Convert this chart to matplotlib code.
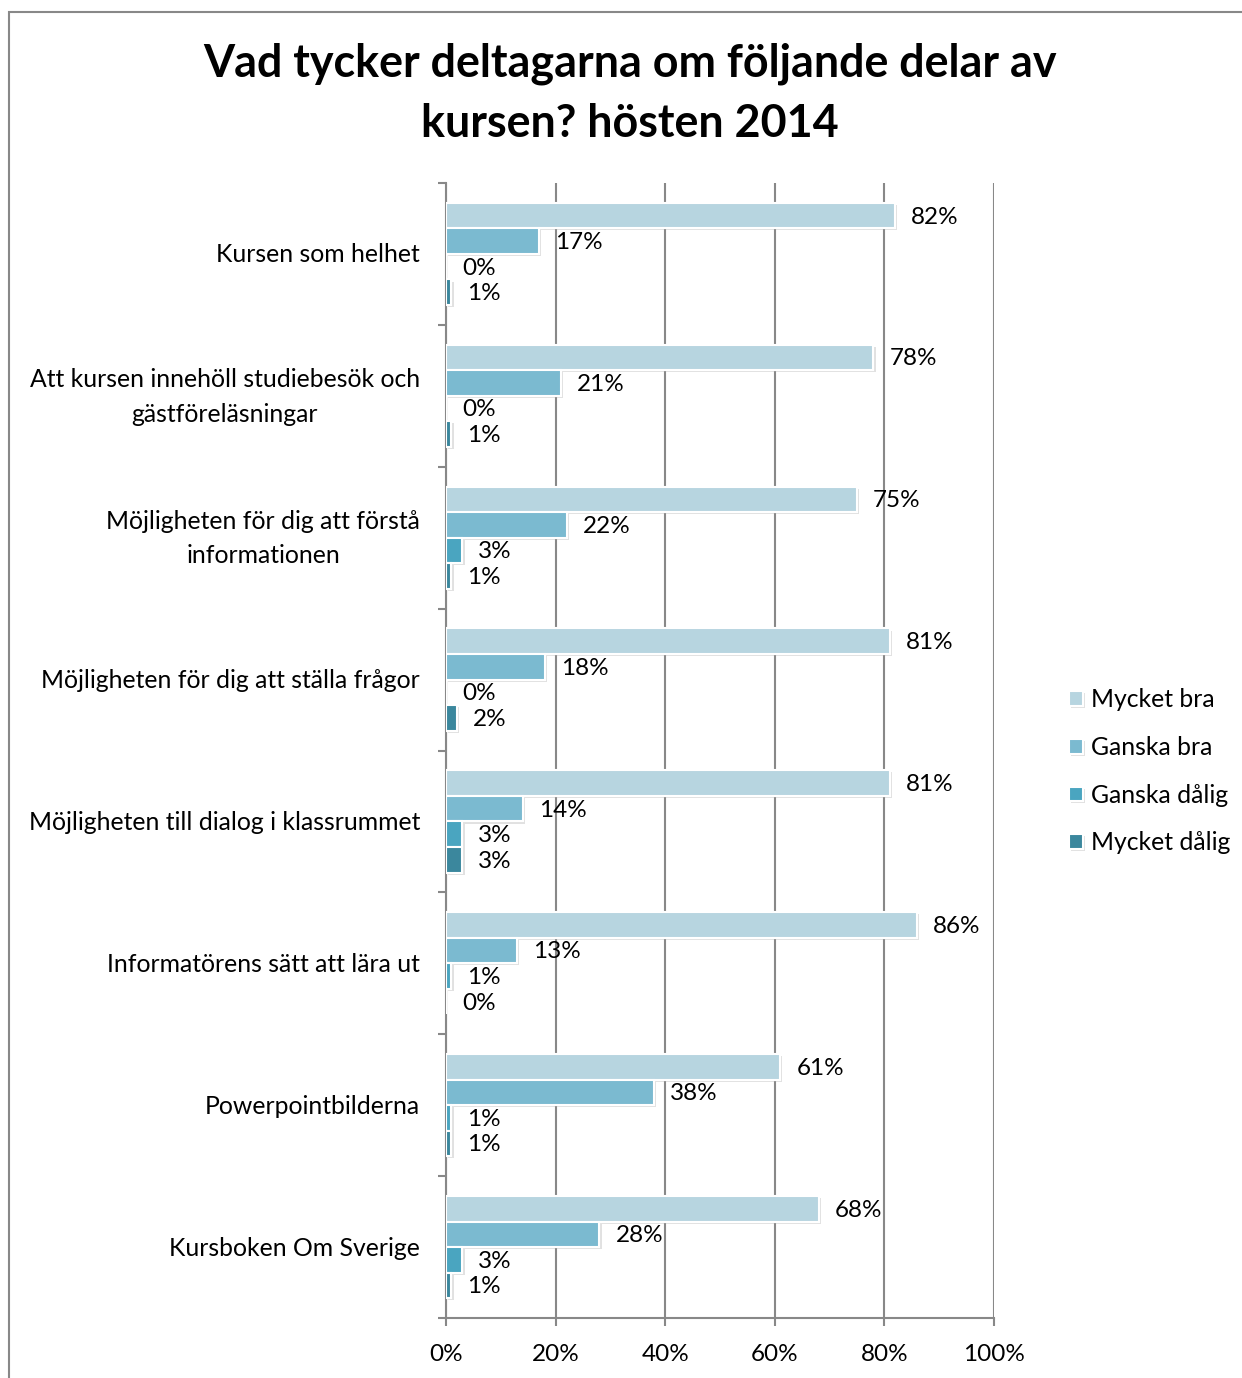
import matplotlib
matplotlib.use('Agg')
import matplotlib.pyplot as plt
import matplotlib.patheffects as pe
import matplotlib.transforms as mtransforms
from matplotlib.patches import Rectangle
from matplotlib.ticker import FixedLocator, NullFormatter

plt.rcParams['font.family'] = ['Lato', 'DejaVu Sans']

# data
kategorier = [
    'Kursen som helhet',
    'Att kursen innehöll studiebesök och\ngästföreläsningar',
    'Möjligheten för dig att förstå\ninformationen',
    'Möjligheten för dig att ställa frågor',
    'Möjligheten till dialog i klassrummet',
    'Informatörens sätt att lära ut',
    'Powerpointbilderna',
    'Kursboken Om Sverige',
]
serier = ['Mycket bra', 'Ganska bra', 'Ganska dålig', 'Mycket dålig']
mycket_bra = [82, 78, 75, 81, 81, 86, 61, 68]
ganska_bra = [17, 21, 22, 18, 14, 13, 38, 28]
ganska_dalig = [0, 0, 3, 0, 3, 1, 1, 3]
mycket_dalig = [1, 1, 1, 2, 3, 0, 1, 1]
x_ticks = [0, 20, 40, 60, 80, 100]
titel = 'Vad tycker deltagarna om följande delar av\nkursen? hösten 2014'

varden = [mycket_bra, ganska_bra, ganska_dalig, mycket_dalig]
farger = ['#b7d5e0', '#7bbad0', '#4aa5c0', '#3b879d']
fs = 17.5

fig = plt.figure(figsize=(12.42, 13.78), dpi=100)
ax = fig.add_axes([446 / 1242, 1 - 1318 / 1378, 548 / 1242, (1318 - 183) / 1378])

gap = 0.14
h = 0.18
skugga = [pe.SimplePatchShadow(offset=(1.5, -1.5), shadow_rgbFace='#aaaaaa', alpha=0.35), pe.Normal()]
for j, (namn, vals) in enumerate(zip(serier, varden)):
    ys = [i + gap + h * j + h / 2 for i in range(len(kategorier))]
    bars = ax.barh(ys, vals, height=h, color=farger[j], edgecolor='white',
                   linewidth=1.5, label=namn, zorder=3)
    for b in bars:
        b.set_path_effects(skugga)
    for y, v in zip(ys, vals):
        ax.annotate(f'{v}%', (v, y), xytext=(11.5, -1), textcoords='offset points',
                    ha='left', va='center', fontsize=fs, zorder=4)

ax.set_xlim(0, 100)
ax.set_ylim(len(kategorier), 0)
ax.set_xticks(x_ticks)
ax.set_xticklabels([f'{t}%' for t in x_ticks], fontsize=fs)
ax.grid(axis='x', color='#888888', linewidth=1.5, zorder=0)

ax.yaxis.set_major_locator(FixedLocator(range(len(kategorier) + 1)))
ax.yaxis.set_major_formatter(NullFormatter())
ax.tick_params(axis='y', which='major', length=6, width=1.5, color='#888888')
ax.tick_params(axis='x', length=6, width=1.5, color='#888888', pad=12.5)

# kategorietiketter
blend = mtransforms.blended_transform_factory(ax.transAxes, ax.transData)
tr = mtransforms.offset_copy(blend, fig=fig, x=-26, y=-1, units='dots')
for i, k in enumerate(kategorier):
    ax.text(0, i + 0.5, k, transform=tr, ha='right', va='center',
            multialignment='center', fontsize=17.8, linespacing=1.6)

for s in ['top', 'right']:
    ax.spines[s].set_visible(False)
for s in ['left', 'bottom']:
    ax.spines[s].set_color('#888888')
    ax.spines[s].set_linewidth(1.5)

leg = fig.legend(loc='upper left', bbox_to_anchor=(1047 / 1242, 1 - 666 / 1378),
                 frameon=False, fontsize=17.8, handlelength=0.55, handleheight=0.55,
                 handletextpad=0.32, labelspacing=1.0)

fig.text(630 / 1242, 1 - 94 / 1378, titel, ha='center', va='center',
         fontsize=32.3, fontweight='bold', linespacing=1.54)

fig.patches.append(Rectangle((9 / 1242, -0.1), 1.2, 1 - 12 / 1378 + 0.1,
                             transform=fig.transFigure, fill=False,
                             edgecolor='#888888', linewidth=1.5))

fig.savefig('out.png', dpi=100)
